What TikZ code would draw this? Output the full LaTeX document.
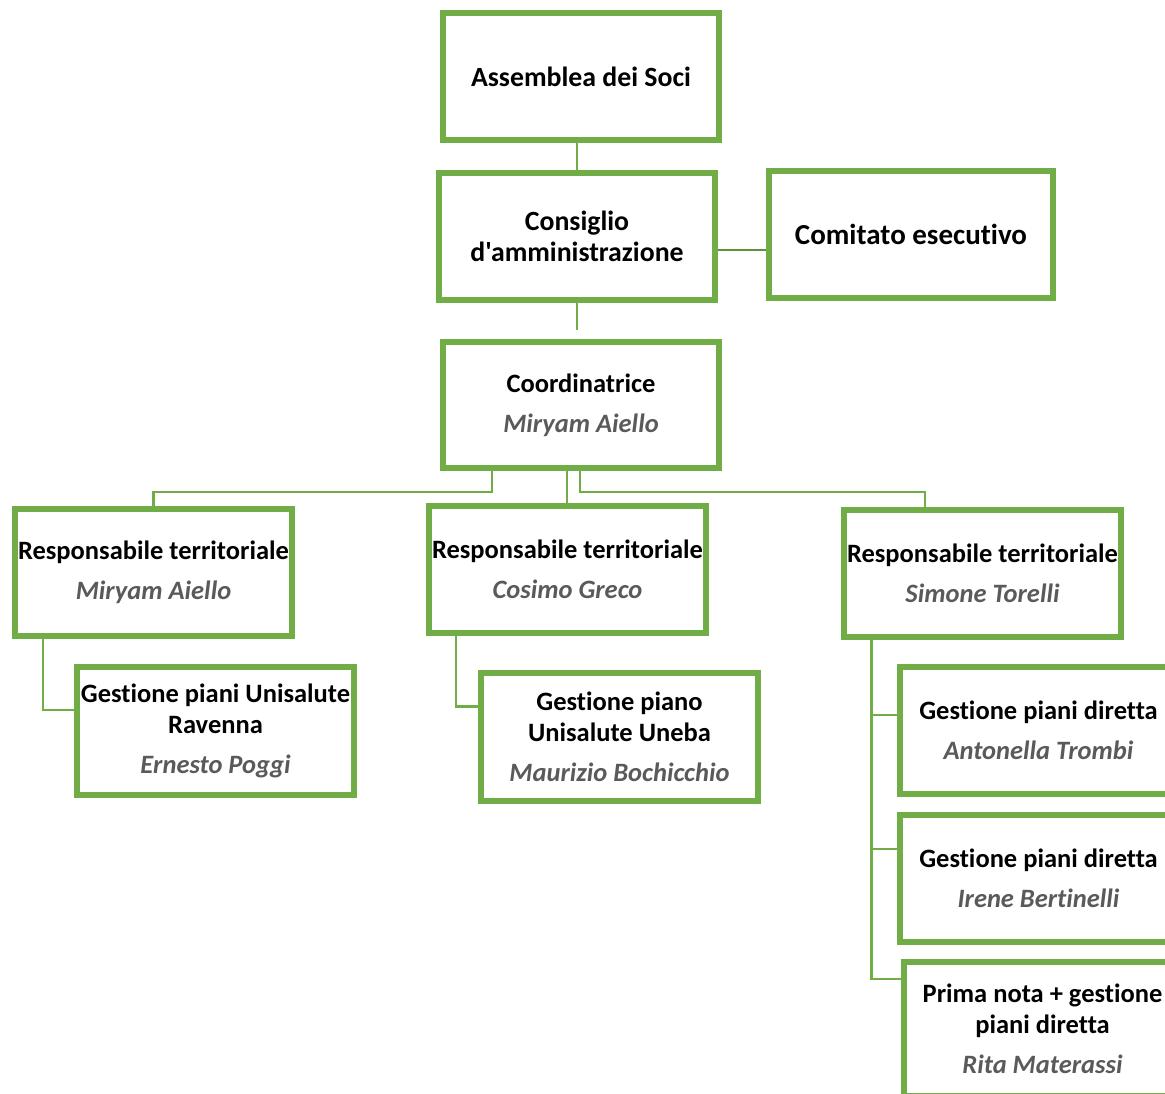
\documentclass[tikz,border=0pt]{standalone}
\usepackage{fontspec}
\setmainfont{Carlito}[Ligatures={TeXOff,NoCommon,NoRare,NoContextual,NoRequired}, RawFeature={-liga;-clig;-calt;-dlig;-rlig}]
\definecolor{grn}{HTML}{70AD47}
\definecolor{grnd}{HTML}{5E9239}
\definecolor{nm}{HTML}{5A5A5A}
\newcommand{\pname}[1]{{\color{nm}\bfseries\itshape #1}}
\tikzset{
  box/.style={draw=grn, line width=6pt, fill=white, inner sep=0pt, align=center,
    font=\fontsize{26.5}{31}\selectfont\bfseries, text=black,
    minimum width=277pt, minimum height=127pt},
  conn/.style={draw=grn, line width=2.2pt},
}
\begin{document}
\begin{tikzpicture}[x=1pt,y=-1pt]
\clip (0,0) rectangle (1165,1093);
\fill[white] (0,0) rectangle (1165,1093);
\node[box, minimum width=276pt, font=\fontsize{27.8}{31}\selectfont\bfseries] (ass) at (581,76.5) {Assemblea dei Soci};
\node[box, minimum width=276pt, font=\fontsize{27.8}{31}\selectfont\bfseries] (cda) at (577,236.5) {Consiglio\\d'amministrazione};
\node[box, minimum width=284pt, font=\fontsize{29}{31}\selectfont\bfseries] (com) at (911,234.5) {Comitato esecutivo};
\node[box, minimum width=276pt, minimum height=126pt] (coord) at (581,405) {Coordinatrice\\[9pt]\pname{Miryam Aiello}};
\node[box] (r1) at (153.5,572.5) {Responsabile territoriale\\[9pt]\pname{Miryam Aiello}};
\node[box] (r2) at (567.5,569.5) {Responsabile territoriale\\[9pt]\pname{Cosimo Greco}};
\node[box] (r3) at (982.5,573.5) {Responsabile territoriale\\[9pt]\pname{Simone Torelli}};
\node[box, minimum height=128pt] (rav) at (215.5,731) {Gestione piani Unisalute\\Ravenna\\[9pt]\pname{Ernesto Poggi}};
\node[box, minimum height=128pt] (une) at (619.5,737) {Gestione piano\\Unisalute Uneba\\[9pt]\pname{Maurizio Bochicchio}};
\node[box] (g1) at (1038.5,730.5) {Gestione piani diretta\\[9pt]\pname{Antonella Trombi}};
\node[box] (g2) at (1038.5,878.5) {Gestione piani diretta\\[9pt]\pname{Irene Bertinelli}};
\node[box, minimum height=134pt] (pn) at (1042.5,1029) {Prima nota + gestione\\piani diretta\\[9pt]\pname{Rita Materassi}};
% connectors
\draw[conn] ([xshift=-4pt]ass.south) -- (cda.north);
\draw[draw=grnd, line width=1.3pt] ([yshift=-13.5pt]cda.east) -- ([yshift=-15.5pt]com.west);
\draw[conn] (cda.south) -- ++(0,27);
\draw[conn] ([xshift=-89pt]coord.south) -- ++(0,21) -| (r1.north);
\draw[conn] ([xshift=-14pt]coord.south) -- ([xshift=-0.5pt]r2.north);
\draw[conn] ([xshift=-1pt]coord.south) -- ++(0,21) -| ([xshift=-57.5pt]r3.north);
\draw[conn] ([xshift=-110.5pt]r1.south) |- ([yshift=21pt]rav.west);
\draw[conn] ([xshift=-111.5pt]r2.south) |- ([yshift=30.5pt]une.west);
\draw[conn] ([xshift=-111pt]r3.south) |- ([yshift=15.5pt]g1.west);
\draw[conn] ([xshift=-111pt]r3.south) |- ([yshift=29.5pt]g2.west);
\draw[conn] ([xshift=-111pt]r3.south) |- ([yshift=50pt]pn.west);
\end{tikzpicture}
\end{document}
